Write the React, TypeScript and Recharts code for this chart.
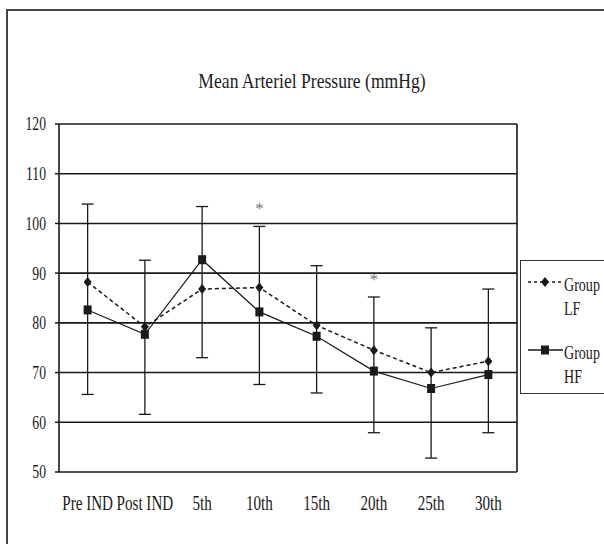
import React from 'react';
import {
  LineChart,
  Line,
  XAxis,
  YAxis,
  CartesianGrid,
  ErrorBar,
  LabelList,
  Legend,
  ReferenceLine,
} from 'recharts';

const categories = ['Pre IND', 'Post IND', '5th', '10th', '15th', '20th', '25th', '30th'];
const groupLF = [88.2, 79.2, 86.8, 87.1, 79.5, 74.5, 70.0, 72.3];
const groupHF = [82.6, 77.7, 92.7, 82.2, 77.3, 70.3, 66.8, 69.6];
const errUpper = [103.9, 92.6, 103.4, 99.4, 91.5, 85.2, 79.0, 86.8];
const errLower = [65.6, 61.6, 73.0, 67.6, 65.9, 57.9, 52.8, 57.9];
const significance = ['', '', '', '*', '', '*', '', ''];
const yTicks = [50, 60, 70, 80, 90, 100, 110, 120];
const boundaryTicks = [0, 1, 2, 3, 4, 5, 6, 7, 8];
const centerTicks = [0.5, 1.5, 2.5, 3.5, 4.5, 5.5, 6.5, 7.5];
const seriesNames = ['Group LF', 'Group HF'];
const titleText = 'Mean Arteriel Pressure (mmHg)';

const data = categories.map((c, i) => ({
  x: i + 0.5,
  cat: c,
  lf: groupLF[i],
  hf: groupHF[i],
  high: errUpper[i],
  errSpan: [errUpper[i] - errLower[i], 0],
  sig: significance[i],
}));

const FONT = '"Liberation Serif", "Times New Roman", serif';
const INK = '#1a1a1a';
const SQUEEZE = 0.72;

const Diamond = (props: any) => {
  const { cx, cy, index } = props;
  if (cx == null || cy == null) return <g key={`lfd-${index}`} />;
  return (
    <path
      key={`lfd-${index}`}
      d={`M${cx},${cy - 5} L${cx + 4},${cy} L${cx},${cy + 5} L${cx - 4},${cy} Z`}
      fill={INK}
      stroke="none"
    />
  );
};

const Square = (props: any) => {
  const { cx, cy, index } = props;
  if (cx == null || cy == null) return <g key={`hfd-${index}`} />;
  return <rect key={`hfd-${index}`} x={cx - 4} y={cy - 4.5} width={8} height={9} fill={INK} stroke="none" />;
};

const YTick = (props: any) => {
  const { x, y, payload } = props;
  return (
    <g transform={`translate(${x},${y})`}>
      <text
        transform={`scale(${SQUEEZE},1)`}
        textAnchor="end"
        dy="0.34em"
        fill={INK}
        fontSize={19}
        fontFamily={FONT}
      >
        {payload.value}
      </text>
    </g>
  );
};

const XTick = (props: any) => {
  const { x, y, payload } = props;
  return (
    <g transform={`translate(${x},${y})`}>
      <text
        transform={`scale(${SQUEEZE},1)`}
        textAnchor="middle"
        dy="0.71em"
        fill={INK}
        fontSize={21}
        fontFamily={FONT}
      >
        {categories[Math.floor(payload.value)]}
      </text>
    </g>
  );
};

const LegendBox = () => {
  const entry = (name: string, dashed: boolean) => {
    const [w1, w2] = name.split(' ');
    return (
      <div style={{ display: 'flex', alignItems: 'flex-start' }}>
        <svg width={36} height={24} style={{ display: 'block', flex: 'none' }}>
          <line
            x1={0}
            y1={9}
            x2={35}
            y2={9}
            stroke={INK}
            strokeWidth={1.5}
            strokeDasharray={dashed ? '3 3' : undefined}
          />
          {dashed ? (
            <path d="M17,4 L21,9 L17,14 L13,9 Z" fill={INK} />
          ) : (
            <rect x={13} y={4.5} width={8} height={9} fill={INK} />
          )}
        </svg>
        <div
          style={{
            lineHeight: '24px',
            fontSize: 19,
            fontFamily: FONT,
            color: INK,
            transform: `scale(0.74,1)`,
            transformOrigin: 'left top',
            whiteSpace: 'nowrap',
          }}
        >
          <div>{w1}</div>
          <div>{w2}</div>
        </div>
      </div>
    );
  };
  return (
    <div
      style={{
        boxSizing: 'border-box',
        width: 110,
        height: 134,
        border: '1.5px solid #333',
        background: '#fff',
        padding: '12px 0 0 7px',
      }}
    >
      {entry(seriesNames[0], true)}
      <div style={{ height: 20 }} />
      {entry(seriesNames[1], false)}
    </div>
  );
};

export default function App() {
  return (
    <div
      style={{
        position: 'absolute',
        left: 0,
        top: 0,
        width: 604,
        height: 544,
        overflow: 'hidden',
        background: '#fff',
      }}
    >
      <div
        style={{
          position: 'absolute',
          left: 6,
          top: 9,
          width: 640,
          height: 600,
          border: '2px solid #444',
          boxSizing: 'border-box',
        }}
      />
      <div
        style={{
          position: 'absolute',
          left: 0,
          top: 70,
          width: 624,
          textAlign: 'center',
          fontFamily: FONT,
          fontSize: 22,
          lineHeight: '22px',
          color: INK,
          transform: 'scale(0.8,1)',
          transformOrigin: '312px 0',
          whiteSpace: 'nowrap',
        }}
      >
        {titleText}
      </div>
      <div style={{ position: 'absolute', left: 0, top: 0 }}>
        <LineChart width={604} height={544} data={data} margin={{ top: 124, right: 87, left: 0, bottom: 32 }}>
          <CartesianGrid xAxisId="tick" vertical={false} stroke={INK} strokeWidth={1.6} />
          <XAxis
            xAxisId="tick"
            dataKey="x"
            type="number"
            domain={[0, 8]}
            ticks={boundaryTicks}
            interval={0}
            tick={false}
            tickSize={5}
            height={0}
            axisLine={{ stroke: INK, strokeWidth: 1.6 }}
            tickLine={{ stroke: INK, strokeWidth: 1.5 }}
          />
          <XAxis
            xAxisId="lab"
            dataKey="x"
            type="number"
            domain={[0, 8]}
            ticks={centerTicks}
            interval={0}
            axisLine={false}
            tickLine={false}
            tickSize={0}
            tickMargin={23}
            height={40}
            tick={<XTick />}
          />
          <YAxis
            domain={[50, 120]}
            ticks={yTicks}
            interval={0}
            width={59}
            tickSize={4}
            tickMargin={9}
            axisLine={{ stroke: INK, strokeWidth: 1.6 }}
            tickLine={{ stroke: INK, strokeWidth: 1.5 }}
            tick={<YTick />}
          />
          <ReferenceLine xAxisId="tick" x={8} stroke={INK} strokeWidth={1.6} />
          <Line
            xAxisId="lab"
            dataKey="high"
            stroke="none"
            dot={false}
            activeDot={false}
            legendType="none"
            isAnimationActive={false}
          >
            <ErrorBar dataKey="errSpan" width={6} stroke={INK} strokeWidth={1.3} direction="y" />
            <LabelList
              dataKey="sig"
              position="top"
              offset={12}
              fill="#777"
              fontSize={17}
              fontFamily={FONT}
            />
          </Line>
          <Line
            xAxisId="lab"
            name={seriesNames[0]}
            dataKey="lf"
            stroke={INK}
            strokeWidth={1.5}
            strokeDasharray="4 3"
            dot={Diamond}
            activeDot={false}
            isAnimationActive={false}
          />
          <Line
            xAxisId="lab"
            name={seriesNames[1]}
            dataKey="hf"
            stroke={INK}
            strokeWidth={1.2}
            dot={Square}
            activeDot={false}
            isAnimationActive={false}
          />
          <Legend
            layout="vertical"
            align="center"
            verticalAlign="middle"
            content={() => <LegendBox />}
            wrapperStyle={{ left: 520, top: 260, width: 110, height: 134 }}
          />
        </LineChart>
      </div>
    </div>
  );
}
